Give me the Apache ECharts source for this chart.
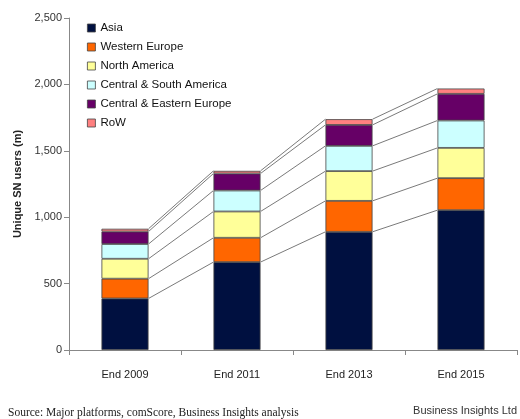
<!DOCTYPE html>
<html><head><meta charset="utf-8">
<script src="https://cdn.jsdelivr.net/npm/echarts@6/dist/echarts.min.js"></script>
<style>html,body{margin:0;padding:0;background:#fff}#c{width:520px;height:419px}</style>
</head><body><div id="c"></div>
<script>
const categories = ['End 2009', 'End 2011', 'End 2013', 'End 2015'];
const asia = [388, 662, 890, 1053];
const westernEurope = [149, 183, 233, 241];
const northAmerica = [150, 198, 224, 228];
const centralSouthAmerica = [111, 158, 190, 206];
const centralEasternEurope = [94, 128, 158, 201];
const row = [21, 20, 43, 40];
const yTicks = [0, 500, 1000, 1500, 2000, 2500];

const seriesDefs = [
  {name: 'Asia', data: asia, color: '#001040'},
  {name: 'Western Europe', data: westernEurope, color: '#FF6600'},
  {name: 'North America', data: northAmerica, color: '#FFFF99'},
  {name: 'Central & South America', data: centralSouthAmerica, color: '#CCFFFF'},
  {name: 'Central & Eastern Europe', data: centralEasternEurope, color: '#660066'},
  {name: 'RoW', data: row, color: '#FF8080'}
];
const BAR_FRAC = 0.42;

// cumulative tops per category
const cum = categories.map((_, i) => {
  let s = 0; return seriesDefs.map(d => (s += d.data[i]));
});

const chart = echarts.init(document.getElementById('c'), null, {renderer: 'canvas'});
const series = seriesDefs.map(d => ({
  name: d.name, type: 'bar', stack: 'total', data: d.data,
  barWidth: (BAR_FRAC * 100) + '%',
  itemStyle: {color: d.color, borderColor: '#444', borderWidth: 0.8},
  emphasis: {disabled: true}, z: 3
}));
series.push({
  type: 'custom', name: 'connectors', silent: true, z: 2,
  data: categories.slice(0, -1).map((_, i) => [i]),
  renderItem: function (params, api) {
    const i = api.value(0);
    const band = api.size([1, 0])[0];
    const half = band * BAR_FRAC / 2;
    const children = cum[i].map((v, k) => {
      const p1 = api.coord([i, v]);
      const p2 = api.coord([i + 1, cum[i + 1][k]]);
      return {type: 'line', shape: {x1: p1[0] + half, y1: p1[1], x2: p2[0] - half, y2: p2[1]},
        style: {stroke: '#7a7a7a', lineWidth: 1}};
    });
    return {type: 'group', children: children};
  }
});

chart.setOption({
  animation: false,
  backgroundColor: '#fff',
  grid: {left: 69, right: 3, top: 18, bottom: 69},
  legend: {
    data: seriesDefs.map(d => d.name),
    orient: 'vertical', left: 82, top: 17, itemGap: 7,
    itemWidth: 8, itemHeight: 8, icon: 'rect',
    textStyle: {fontFamily: 'Liberation Sans, Arial', fontSize: 11.5, color: '#111', padding: [0, 0, 0, 0]},
    itemStyle: {borderColor: '#444', borderWidth: 0.8}
  },
  xAxis: {
    type: 'category', data: categories,
    axisLine: {lineStyle: {color: '#888', width: 1}},
    axisTick: {show: true, length: 5, inside: false, lineStyle: {color: '#888'}},
    axisLabel: {fontFamily: 'Liberation Sans, Arial', fontSize: 11, color: '#222', margin: 19}
  },
  yAxis: {
    type: 'value', min: 0, max: 2500, interval: 500,
    name: 'Unique SN users (m)', nameLocation: 'middle', nameGap: 45,
    nameTextStyle: {fontFamily: 'Liberation Sans, Arial', fontSize: 11, fontWeight: 'bold', color: '#222'},
    axisLine: {show: true, lineStyle: {color: '#888', width: 1}},
    axisTick: {show: true, length: 5, lineStyle: {color: '#888'}},
    splitLine: {show: false},
    axisLabel: {fontFamily: 'Liberation Sans, Arial', fontSize: 11, color: '#333', margin: 7,
      formatter: v => yTicks.includes(v) ? v.toLocaleString('en-US') : ''}
  },
  graphic: [
    {type: 'text', left: 8, top: 407, style: {text: 'Source: Major platforms, comScore, Business Insights analysis',
      font: '11.5px "Liberation Serif", "Times New Roman", serif', fill: '#222'}},
    {type: 'text', right: 3, top: 405, style: {text: 'Business Insights Ltd',
      font: '11px "Liberation Sans", Arial, sans-serif', fill: '#333'}}
  ],
  series: series
});
</script></body></html>
